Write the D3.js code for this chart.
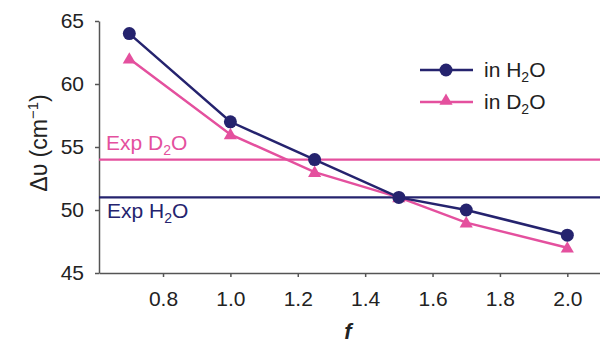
<!DOCTYPE html>
<html>
<head>
<meta charset="utf-8">
<script src="https://cdn.jsdelivr.net/npm/d3@7"></script>
<style>
  body { margin: 0; background: #fff; }
  svg { display: block; font-family: "Liberation Sans", Arial, sans-serif; }
</style>
</head>
<body>
<svg id="chart" width="600" height="343"></svg>
<script>
// data
const fValues = [0.7, 1.0, 1.25, 1.5, 1.7, 2.0];
const inH2O = [64, 57, 54, 51, 50, 48];
const inD2O = [62, 56, 53, 51, 49, 47];
const expH2O = 51;
const expD2O = 54;
const xTicks = [0.8, 1.0, 1.2, 1.4, 1.6, 1.8, 2.0];
const yTicks = [45, 50, 55, 60, 65];

const navy = '#25236e';
const pink = '#e4509e';
const axisColor = '#555';

const svg = d3.select('#chart');

const x = d3.scaleLinear().domain([0.61, 2.1]).range([99, 601]);
const y = d3.scaleLinear().domain([45, 65]).range([273, 21]);

// y axis
const gy = svg.append('g')
    .attr('transform', 'translate(99,0)')
    .call(d3.axisLeft(y).tickValues(yTicks).tickSize(4).tickPadding(11).tickSizeOuter(0));
gy.select('.domain').attr('stroke', axisColor).attr('stroke-width', 1.5);
gy.selectAll('.tick line').attr('stroke', axisColor).attr('stroke-width', 1.5);
gy.selectAll('.tick text').attr('fill', '#222').style('font-size', '21px');

// x axis
const gx = svg.append('g')
    .attr('transform', 'translate(0,273)')
    .call(d3.axisBottom(x).tickValues(xTicks).tickFormat(d3.format('.1f')).tickSize(4).tickPadding(14).tickSizeOuter(0));
gx.select('.domain').attr('stroke', axisColor).attr('stroke-width', 1.5);
gx.selectAll('.tick line').attr('stroke', axisColor).attr('stroke-width', 1.5);
gx.selectAll('.tick text').attr('fill', '#222').style('font-size', '21px');

// experimental reference lines
[[expD2O, pink], [expH2O, navy]].forEach(function (d) {
    svg.append('line')
        .attr('x1', 99).attr('x2', 600)
        .attr('y1', y(d[0])).attr('y2', y(d[0]))
        .attr('stroke', d[1]).attr('stroke-width', 2.2);
});

function subLabel(g, xPos, yPos, pre, post, color) {
    const t = g.append('text')
        .attr('x', xPos).attr('y', yPos)
        .attr('fill', color)
        .style('font-size', '21px');
    t.append('tspan').text(pre);
    t.append('tspan').attr('dy', 5).style('font-size', '14px').text('2');
    t.append('tspan').attr('dy', -5).text(post);
    return t;
}

subLabel(svg, 106, y(expD2O) - 10, 'Exp D', 'O', pink);
subLabel(svg, 107, y(expH2O) + 21, 'Exp H', 'O', navy);

// series lines
const line = d3.line().x(function (d) { return x(d[0]); }).y(function (d) { return y(d[1]); });
const h2oPts = fValues.map(function (f, i) { return [f, inH2O[i]]; });
const d2oPts = fValues.map(function (f, i) { return [f, inD2O[i]]; });

svg.append('path').datum(d2oPts).attr('d', line)
    .attr('fill', 'none').attr('stroke', pink).attr('stroke-width', 2.5);
svg.append('path').datum(h2oPts).attr('d', line)
    .attr('fill', 'none').attr('stroke', navy).attr('stroke-width', 2.5);

const tri = d3.symbol().type(d3.symbolTriangle).size(75);
svg.selectAll('.tri').data(d2oPts).enter().append('path')
    .attr('class', 'tri')
    .attr('d', tri)
    .attr('transform', function (d) { return `translate(${x(d[0])},${y(d[1]) + 1})`; })
    .attr('fill', pink);

svg.selectAll('.dot').data(h2oPts).enter().append('circle')
    .attr('class', 'dot')
    .attr('cx', function (d) { return x(d[0]); })
    .attr('cy', function (d) { return y(d[1]); })
    .attr('r', 6.5)
    .attr('fill', navy);

// legend
const legend = svg.append('g');
legend.append('line').attr('x1', 420).attr('x2', 473).attr('y1', 70).attr('y2', 70)
    .attr('stroke', navy).attr('stroke-width', 2.5);
legend.append('circle').attr('cx', 446).attr('cy', 70).attr('r', 6.5).attr('fill', navy);
legend.append('line').attr('x1', 420).attr('x2', 473).attr('y1', 102).attr('y2', 102)
    .attr('stroke', pink).attr('stroke-width', 2.5);
legend.append('path').attr('d', tri).attr('transform', 'translate(446,101)').attr('fill', pink);
subLabel(legend, 484, 77, 'in H', 'O', '#222');
subLabel(legend, 484, 109, 'in D', 'O', '#222');

// axis titles
const yTitle = svg.append('text')
    .attr('transform', 'translate(47,143) rotate(-90)')
    .attr('text-anchor', 'middle')
    .attr('fill', '#222')
    .style('font-size', '23px');
yTitle.append('tspan').text('Δυ (cm');
yTitle.append('tspan').attr('dy', -9).style('font-size', '15px').text('−1');
yTitle.append('tspan').attr('dy', 9).text(')');

svg.append('text')
    .attr('x', 348).attr('y', 339)
    .attr('text-anchor', 'middle')
    .attr('fill', '#222')
    .style('font-size', '22px')
    .style('font-weight', 'bold')
    .style('font-style', 'italic')
    .text('f');
</script>
</body>
</html>
